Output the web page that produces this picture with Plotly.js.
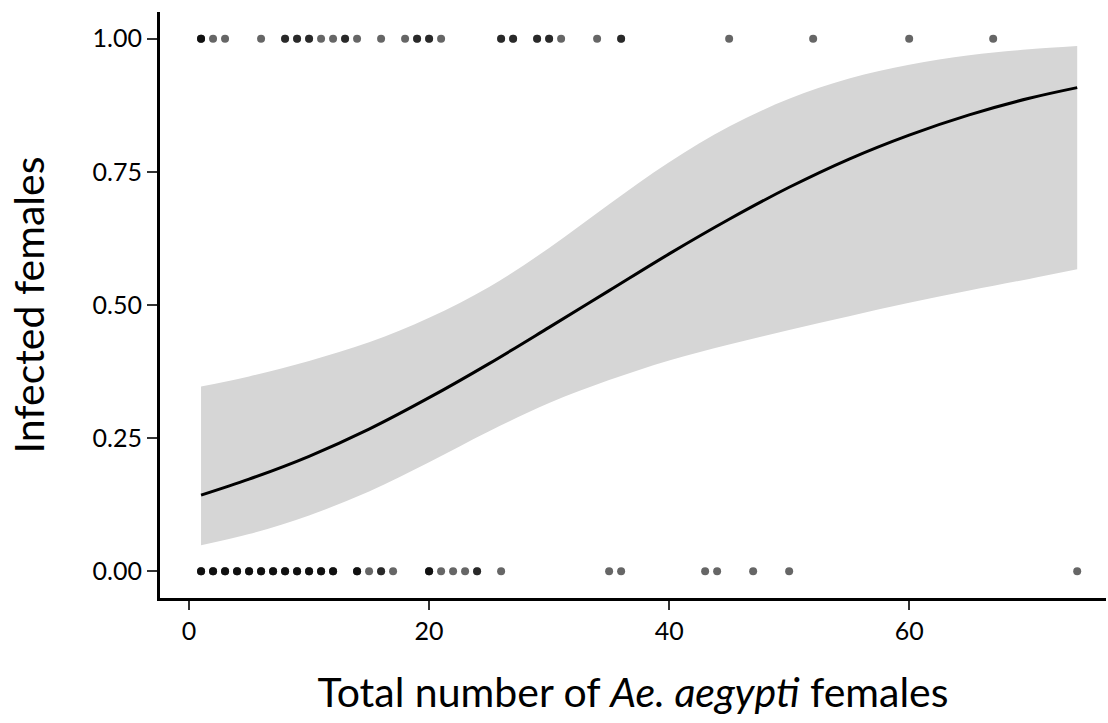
<!DOCTYPE html>
<html>
<head>
<meta charset="utf-8">
<script src="https://cdn.plot.ly/plotly-3.0.1.min.js"></script>
<style>
html,body{margin:0;padding:0;background:#fff;}
#chart{width:1108px;height:723px;}
</style>
</head>
<body>
<div id="chart"></div>
<script>
// Observed pools: total females (x) for infected (y=1) and uninfected (y=0) outcomes; repeats = overlapping points
const infectedX = [1,1,1, 2, 3, 6, 8,8, 9,9, 10,10, 11, 12, 13,13, 14, 16, 18, 19,19, 20,20, 21,
                   26,26, 27,27, 29,29, 30,30, 31, 34, 36,36, 45, 52, 60, 67];
const uninfectedX = [1,1,1, 2,2,2, 3,3,3, 4,4,4, 5,5,5, 6,6,6, 7,7,7, 8,8,8, 9,9,9, 10,10,10, 11,11,11, 12,12,12,
                     14,14,14, 15, 16,16, 17, 20,20,20, 21, 22, 23, 24,24, 26, 35, 36, 43, 44, 47, 50, 74];

// Fitted curve and 95% confidence band
const fitX   = [1, 5, 10, 15, 20, 25, 30, 35, 40, 45, 50, 55, 60, 65, 70, 74];
const fitY   = [0.143, 0.173, 0.216, 0.267, 0.326, 0.390, 0.458, 0.527, 0.596, 0.661, 0.721, 0.774, 0.819, 0.857, 0.888, 0.908];
const upperY = [0.347, 0.366, 0.395, 0.430, 0.476, 0.534, 0.607, 0.689, 0.768, 0.835, 0.887, 0.925, 0.951, 0.969, 0.980, 0.986];
const lowerY = [0.049, 0.070, 0.105, 0.150, 0.205, 0.263, 0.316, 0.359, 0.396, 0.426, 0.453, 0.479, 0.504, 0.527, 0.549, 0.567];

const xTicks = [0, 20, 40, 60];
const yTicks = [0, 0.25, 0.5, 0.75, 1];
const yTickText = ['0.00', '0.25', '0.50', '0.75', '1.00'];

const traces = [
  {x: fitX, y: lowerY, type: 'scatter', mode: 'lines', line: {width: 0, shape: 'spline'}, hoverinfo: 'skip', showlegend: false},
  {x: fitX, y: upperY, type: 'scatter', mode: 'lines', line: {width: 0, shape: 'spline'}, fill: 'tonexty',
   fillcolor: '#d6d6d6', hoverinfo: 'skip', showlegend: false},
  {x: fitX, y: fitY, type: 'scatter', mode: 'lines', line: {color: '#000', width: 3, shape: 'spline'}, showlegend: false},
  {x: infectedX, y: infectedX.map(() => 1), type: 'scatter', mode: 'markers',
   marker: {color: '#000', size: 8, opacity: 0.6, line: {width: 0}}, showlegend: false},
  {x: uninfectedX, y: uninfectedX.map(() => 0), type: 'scatter', mode: 'markers',
   marker: {color: '#000', size: 8, opacity: 0.6, line: {width: 0}}, showlegend: false}
];

const layout = {
  width: 1108, height: 723,
  margin: {l: 160, r: 2, t: 12, b: 125},
  paper_bgcolor: '#fff', plot_bgcolor: '#fff',
  showlegend: false,
  xaxis: {
    range: [-2.42, 76.4], tickvals: xTicks, ticktext: xTicks.map(String),
    showgrid: false, zeroline: false,
    showline: true, linecolor: '#000', linewidth: 3,
    ticks: 'outside', ticklen: 9, tickwidth: 2, tickcolor: '#333',
    tickfont: {family: 'Lato, sans-serif', size: 25, color: '#000'},
    title: {text: 'Total number of <i>Ae. aegypti</i> females', standoff: 35,
            font: {family: 'Lato, sans-serif', size: 41, color: '#000'}}
  },
  yaxis: {
    range: [-0.05, 1.05], tickvals: yTicks, ticktext: yTickText,
    showgrid: false, zeroline: false,
    showline: true, linecolor: '#000', linewidth: 3,
    ticks: 'outside', ticklen: 10, tickwidth: 2, tickcolor: '#333',
    tickfont: {family: 'Lato, sans-serif', size: 25, color: '#000'},
    title: {text: 'Infected females', standoff: 36,
            font: {family: 'Lato, sans-serif', size: 41, color: '#000'}}
  }
};

Plotly.newPlot('chart', traces, layout, {displayModeBar: false, staticPlot: true});
</script>
</body>
</html>
